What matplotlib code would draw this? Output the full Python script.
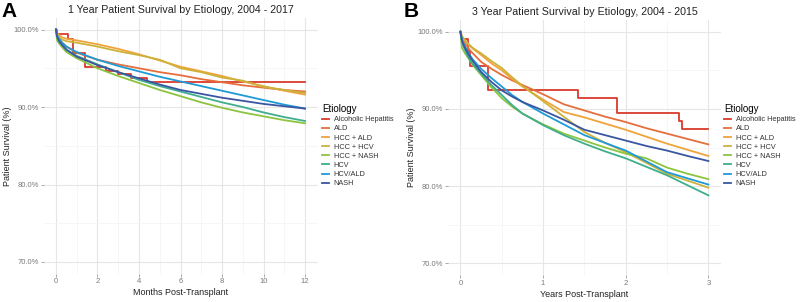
import numpy as np
import matplotlib.pyplot as plt
from matplotlib.ticker import FuncFormatter, MultipleLocator

plt.rcParams['font.family'] = ['Liberation Sans', 'DejaVu Sans']

etiologies = ["Alcoholic Hepatitis", "ALD", "HCC + ALD", "HCC + HCV",
              "HCC + NASH", "HCV", "HCV/ALD", "NASH"]
colors = ["#D93A2B", "#E46F3C", "#F0A33A", "#CDB23A",
          "#8CC43F", "#3EAE8E", "#1E9AD6", "#3A56A2"]

# Panel A: 1 year survival (months)
ah_months = [0, 0.05, 0.6, 0.8, 1.4, 2.4, 3.0, 3.6, 4.4, 12]
ah_surv_1y = [100, 99.4, 98.8, 97.0, 95.1, 94.6, 94.2, 93.7, 93.2, 93.2]

months = [0, 0.05, 0.15, 0.3, 0.5, 1, 2, 3, 4, 5, 6, 7, 8, 9, 10, 11, 12]
surv_1y = {
    "ALD":        [100, 99.4, 98.8, 98.3, 97.8, 97.0, 96.1, 95.5, 95.0, 94.5, 94.1, 93.6, 93.2, 92.8, 92.5, 92.2, 92.0],
    "HCC + ALD":  [100, 99.6, 99.3, 99.0, 98.8, 98.6, 98.1, 97.5, 96.8, 96.0, 95.2, 94.6, 94.0, 93.3, 92.7, 92.1, 91.6],
    "HCC + HCV":  [100, 99.4, 99.0, 98.7, 98.5, 98.3, 97.8, 97.2, 96.7, 96.1, 95.0, 94.5, 93.8, 93.4, 92.6, 92.2, 91.8],
    "HCC + NASH": [100, 98.6, 98.2, 97.7, 97.1, 96.3, 95.0, 94.0, 93.1, 92.2, 91.4, 90.6, 89.9, 89.3, 88.8, 88.3, 87.9],
    "HCV":        [100, 99.1, 98.5, 98.0, 97.4, 96.6, 95.5, 94.5, 93.5, 92.7, 92.0, 91.3, 90.6, 90.0, 89.3, 88.7, 88.2],
    "HCV/ALD":    [100, 99.3, 98.8, 98.3, 97.8, 97.1, 96.1, 95.3, 94.6, 93.9, 93.3, 92.7, 92.1, 91.5, 90.9, 90.3, 89.8],
    "NASH":       [100, 99.1, 98.5, 98.0, 97.4, 96.5, 95.4, 94.5, 93.7, 92.9, 92.2, 91.7, 91.2, 90.8, 90.4, 90.1, 89.8],
}

# Panel B: 3 year survival (years)
ah_years = [0, 0.01, 0.09, 0.12, 0.33, 1.42, 1.9, 2.64, 2.68, 3.0]
ah_surv_3y = [100, 99.1, 97.5, 95.5, 92.4, 91.4, 89.5, 88.4, 87.4, 87.4]

years = [0, 0.02, 0.05, 0.1, 0.15, 0.25, 0.375, 0.5, 0.625, 0.75, 1.0, 1.25,
         1.5, 1.75, 2.0, 2.25, 2.5, 2.75, 3.0]
surv_3y = {
    "ALD":        [100, 99.2, 98.6, 97.8, 97.2, 96.1, 95.2, 94.4, 93.7, 93.1, 91.9, 90.6, 89.8, 89.0, 88.3, 87.5, 86.8, 86.1, 85.4],
    "HCC + ALD":  [100, 99.4, 99.0, 98.3, 97.8, 97.0, 95.9, 95.0, 93.9, 92.9, 91.2, 89.6, 88.9, 88.1, 87.3, 86.4, 85.5, 84.7, 83.9],
    "HCC + HCV":  [100, 99.3, 98.9, 98.4, 97.9, 97.2, 96.2, 95.3, 94.1, 93.0, 91.0, 89.0, 87.0, 85.6, 84.4, 83.0, 81.6, 80.7, 79.8],
    "HCC + NASH": [100, 97.9, 97.3, 96.5, 95.7, 94.4, 92.8, 91.4, 90.3, 89.4, 88.0, 86.8, 85.9, 85.0, 84.2, 83.6, 82.4, 81.6, 80.9],
    "HCV":        [100, 98.7, 97.8, 96.6, 95.8, 94.6, 93.1, 91.8, 90.5, 89.4, 87.9, 86.6, 85.5, 84.5, 83.6, 82.5, 81.4, 80.1, 78.8],
    "HCV/ALD":    [100, 98.9, 98.2, 97.2, 96.4, 95.2, 94.0, 92.9, 91.8, 90.9, 89.4, 88.0, 86.6, 85.6, 84.6, 83.2, 81.8, 81.0, 80.2],
    "NASH":       [100, 98.8, 98.0, 97.0, 96.2, 94.8, 93.5, 92.4, 91.6, 90.9, 89.8, 88.6, 87.3, 86.6, 85.9, 85.2, 84.6, 83.9, 83.25],
}

fig = plt.figure(figsize=(8, 3.02), dpi=100)
axA = fig.add_axes([0.0544, 0.094, 0.3425, 0.8467])
axB = fig.add_axes([0.560, 0.0897, 0.341, 0.8437])

pct = FuncFormatter(lambda v, p: "%.1f%%" % v)


def style(ax, xmax, xmajor, title, xlabel):
    ax.set_xlim(-0.05 * xmax, 1.05 * xmax)
    ax.set_ylim(68.5, 101.5)
    ax.xaxis.set_major_locator(MultipleLocator(xmajor))
    ax.xaxis.set_minor_locator(MultipleLocator(xmajor / 2))
    ax.yaxis.set_major_locator(MultipleLocator(10))
    ax.yaxis.set_minor_locator(MultipleLocator(5))
    ax.yaxis.set_major_formatter(pct)
    ax.grid(which='major', color='#E6E6E6', linewidth=0.8)
    ax.grid(which='minor', color='#F3F3F3', linewidth=0.5)
    ax.set_axisbelow(True)
    for s in ax.spines.values():
        s.set_visible(False)
    ax.tick_params(which='major', length=2, width=0.6, color='#9A9A9A',
                   labelsize=5.5, labelcolor='#7A7A7A', pad=1.5)
    ax.tick_params(which='minor', length=0)
    ax.set_title(title, fontsize=7.7, color='#222222', pad=3.5)
    ax.set_xlabel(xlabel, fontsize=6.5, color='#222222', labelpad=2)
    ax.set_ylabel("Patient Survival (%)", fontsize=6.5, color='#222222', labelpad=1)


# Panel A
axA.plot(ah_months, ah_surv_1y, drawstyle='steps-post', color=colors[0],
         lw=1.3, label=etiologies[0])
for name, c in zip(etiologies[1:], colors[1:]):
    axA.plot(months, surv_1y[name], color=c, lw=1.3, label=name)
style(axA, 12, 2, "1 Year Patient Survival by Etiology, 2004 - 2017",
      "Months Post-Transplant")

# Panel B
axB.plot(ah_years, ah_surv_3y, drawstyle='steps-post', color=colors[0],
         lw=1.3, label=etiologies[0])
for name, c in zip(etiologies[1:], colors[1:]):
    axB.plot(years, surv_3y[name], color=c, lw=1.3, label=name)
style(axB, 3, 1, "3 Year Patient Survival by Etiology, 2004 - 2015",
      "Years Post-Transplant")

for ax, x0 in [(axA, 0.4025), (axB, 0.905)]:
    leg = ax.legend(loc='upper left', bbox_to_anchor=(x0, 0.655),
                    bbox_transform=fig.transFigure, frameon=False,
                    fontsize=5.3, title="Etiology", title_fontsize=7,
                    handlelength=0.9, handletextpad=0.7, labelspacing=0.27,
                    alignment='left', borderaxespad=0, borderpad=0)
    for t in leg.get_texts():
        t.set_color('#333333')

fig.text(0.002, 0.995, "A", fontsize=15, fontweight='bold', va='top', ha='left')
fig.text(0.505, 0.995, "B", fontsize=15, fontweight='bold', va='top', ha='left')

fig.savefig("out.png", dpi=100)
